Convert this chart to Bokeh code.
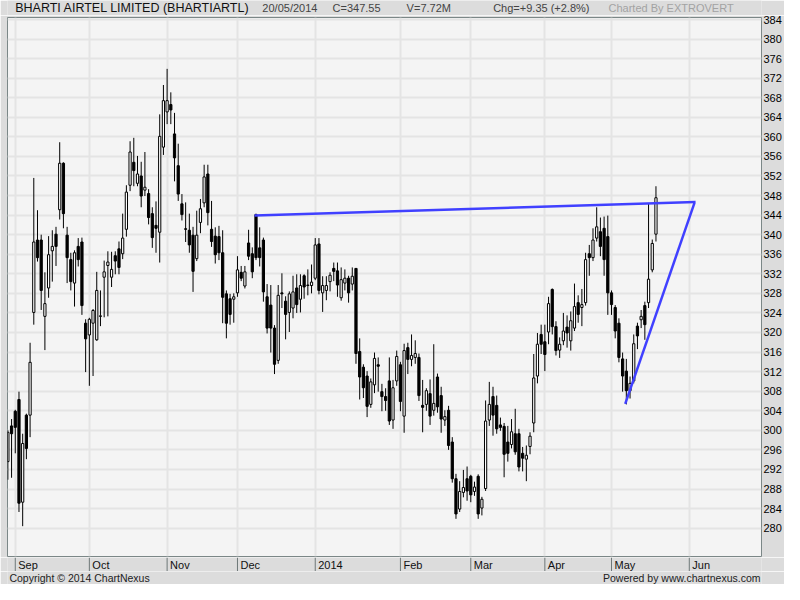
from bokeh.plotting import figure
from bokeh.layouts import column
from bokeh.models import ColumnDataSource, FixedTicker, Range1d
from bokeh.core.properties import value
from bokeh.embed import file_html
from bokeh.resources import INLINE

# Daily OHLC, one entry per trading day (29/08/2013 .. 20/05/2014)
opens = [
    293.6, 300.9, 303.9, 306.3, 285.3, 303.1, 303.1, 324.1, 338.9, 338.9,
    323.3, 329.1, 336.7, 340.1, 345.1, 354.6, 339.9, 334.9, 330.1, 337.6,
    338.5, 321.9, 319.5, 321.9, 318.5, 323.3, 331.3, 333.7, 331.3, 335.7,
    337.1, 336.1, 341.1, 350.1, 354.8, 350.5, 352.0, 349.1, 348.4, 344.3,
    341.9, 340.5, 357.9, 365.1, 366.6, 360.6, 354.1, 346.3, 341.2, 340.9,
    339.9, 335.1, 342.5, 346.5, 352.4, 341.1, 339.7, 339.6, 336.3, 327.9,
    326.9, 326.8, 328.1, 332.3, 329.5, 338.3, 336.1, 344.1, 337.3, 338.9,
    327.3, 325.6, 320.9, 314.3, 328.1, 326.4, 324.1, 325.0, 329.1, 326.8,
    331.6, 329.6, 329.6, 331.1, 338.1, 328.1, 328.6, 330.4, 333.1, 332.6,
    327.1, 330.1, 331.1, 329.9, 333.1, 316.1, 312.9, 311.1, 305.3, 309.3,
    313.4, 307.9, 306.9, 310.1, 302.1, 310.1, 313.4, 302.9, 316.9, 314.5,
    314.9, 314.9, 305.1, 305.3, 307.5, 304.1, 310.9, 307.1, 302.1, 304.1,
    297.6, 290.1, 283.9, 287.3, 290.1, 290.6, 287.5, 290.6, 284.1, 288.1,
    302.1, 306.9, 305.1, 301.1, 300.8, 297.6, 297.1, 299.3, 299.3, 295.3,
    294.1, 296.7, 301.5, 311.1, 319.6, 318.1, 320.1, 328.8, 321.2, 316.4,
    318.3, 321.1, 318.3, 320.9, 326.1, 325.1, 326.1, 336.1, 335.3, 339.3,
    340.6, 341.3, 339.6, 328.1, 325.1, 321.9, 314.6, 312.1, 308.1, 310.1,
    321.3, 322.6, 325.5, 326.1, 332.8, 340.1,
]
highs = [
    300.0, 302.3, 304.2, 307.9, 299.3, 303.4, 317.9, 351.6, 345.0, 340.0,
    332.3, 339.7, 340.9, 341.6, 358.9, 354.8, 341.6, 336.3, 336.8, 339.3,
    339.4, 322.7, 323.0, 324.8, 332.4, 328.6, 334.7, 336.6, 336.5, 336.6,
    338.6, 344.3, 350.1, 359.1, 359.8, 356.1, 354.9, 356.9, 349.3, 345.6,
    346.8, 364.6, 370.6, 373.9, 369.1, 364.9, 358.6, 348.3, 346.6, 344.3,
    341.6, 344.9, 347.3, 354.3, 354.3, 346.9, 341.5, 341.8, 340.9, 328.6,
    327.9, 328.0, 335.6, 333.6, 333.6, 341.0, 337.4, 344.3, 341.5, 339.4,
    329.9, 329.7, 321.5, 329.7, 332.1, 327.4, 328.4, 331.6, 331.9, 331.9,
    331.9, 332.9, 333.9, 339.3, 339.3, 331.5, 331.5, 332.3, 334.3, 334.3,
    333.3, 332.9, 331.6, 333.3, 333.1, 318.8, 313.5, 312.1, 310.6, 315.9,
    314.9, 309.5, 308.6, 314.9, 310.3, 316.3, 314.0, 317.7, 317.9, 319.6,
    318.4, 315.7, 310.3, 308.6, 310.4, 317.6, 311.6, 308.9, 304.1, 305.0,
    298.6, 291.1, 289.6, 291.9, 292.6, 290.9, 289.5, 291.0, 286.4, 306.1,
    309.9, 308.9, 307.1, 302.6, 301.5, 300.9, 302.3, 304.4, 300.3, 296.6,
    296.9, 299.6, 315.6, 319.9, 321.6, 321.6, 327.3, 329.0, 322.3, 319.0,
    324.0, 323.5, 324.3, 330.0, 327.6, 328.9, 336.3, 337.9, 341.3, 345.6,
    343.5, 343.7, 343.9, 328.6, 325.6, 322.9, 315.9, 314.6, 311.0, 319.6,
    322.0, 324.6, 326.3, 346.3, 339.0, 349.9,
]
lows = [
    289.9, 290.3, 295.3, 283.3, 280.4, 294.1, 298.6, 321.6, 334.5, 324.6,
    316.4, 327.1, 330.4, 333.6, 343.1, 341.3, 330.1, 328.6, 325.3, 333.5,
    323.6, 311.9, 309.1, 311.1, 318.3, 321.3, 323.1, 323.3, 329.3, 331.9,
    331.9, 335.0, 339.6, 348.9, 349.9, 349.9, 345.6, 347.9, 342.1, 337.3,
    336.3, 334.3, 356.3, 362.6, 362.6, 350.9, 346.9, 342.9, 338.5, 336.3,
    328.3, 334.6, 340.3, 345.6, 341.9, 337.5, 334.1, 334.8, 321.9, 318.8,
    321.6, 322.0, 327.3, 330.5, 329.0, 334.8, 331.1, 334.8, 333.5, 326.3,
    319.8, 315.9, 311.5, 313.6, 325.0, 318.6, 320.1, 322.9, 324.0, 324.1,
    326.9, 327.6, 328.0, 330.7, 327.8, 324.2, 326.6, 328.4, 330.5, 327.3,
    326.5, 328.6, 326.1, 328.6, 313.6, 306.3, 306.6, 302.7, 304.6, 307.6,
    307.9, 303.9, 304.0, 301.1, 300.3, 309.1, 303.9, 299.5, 311.5, 313.1,
    313.6, 306.0, 299.6, 304.0, 301.1, 303.0, 303.6, 299.5, 300.9, 296.0,
    289.3, 281.9, 283.3, 286.3, 285.6, 285.3, 286.6, 281.9, 282.6, 287.6,
    300.9, 298.9, 299.3, 299.9, 290.4, 293.6, 296.3, 295.0, 291.6, 291.6,
    289.6, 295.1, 299.6, 309.6, 315.6, 312.1, 317.6, 319.6, 315.3, 314.8,
    317.4, 316.9, 316.3, 320.3, 322.0, 321.3, 325.5, 331.6, 334.6, 338.6,
    335.6, 331.6, 323.6, 323.6, 318.8, 313.9, 307.9, 305.3, 306.5, 309.6,
    316.6, 320.9, 318.5, 325.0, 332.3, 338.6,
]
closes = [
    299.6, 299.3, 300.6, 285.1, 297.3, 296.3, 313.9, 338.5, 335.3, 328.6,
    325.9, 335.9, 337.6, 337.6, 354.6, 344.3, 335.3, 330.4, 336.3, 334.9,
    325.5, 318.7, 322.7, 324.5, 328.6, 323.4, 332.4, 334.4, 332.9, 334.6,
    333.3, 339.3, 348.7, 356.9, 353.1, 352.4, 347.9, 349.7, 343.5, 339.4,
    341.3, 360.1, 367.4, 367.4, 365.5, 355.7, 348.3, 344.1, 341.1, 337.9,
    332.5, 339.9, 345.3, 351.8, 344.5, 338.6, 335.9, 336.3, 327.2, 321.9,
    323.7, 327.3, 332.8, 331.1, 332.4, 335.6, 332.4, 335.3, 335.3, 328.3,
    320.9, 320.9, 313.5, 327.6, 327.9, 323.7, 327.9, 328.3, 325.7, 329.6,
    329.3, 329.7, 330.3, 337.9, 328.6, 329.6, 329.6, 331.7, 332.5, 329.7,
    330.8, 331.1, 328.1, 331.5, 315.7, 310.9, 308.7, 304.9, 309.9, 314.7,
    313.1, 306.9, 306.1, 301.9, 308.7, 315.1, 305.9, 316.3, 314.5, 315.3,
    315.7, 307.1, 304.7, 308.1, 302.9, 305.5, 304.8, 302.3, 302.8, 296.9,
    290.1, 282.9, 287.5, 288.3, 287.6, 286.8, 288.4, 282.9, 285.9, 301.9,
    305.3, 303.1, 300.3, 300.6, 295.1, 295.3, 299.7, 295.6, 292.5, 294.3,
    294.9, 298.8, 310.7, 317.6, 317.6, 315.5, 325.9, 321.2, 316.3, 317.6,
    320.3, 319.9, 322.4, 325.3, 323.7, 325.7, 334.9, 335.3, 338.9, 341.6,
    337.6, 334.9, 328.1, 325.7, 320.3, 314.9, 311.1, 308.1, 309.6, 317.7,
    319.3, 323.3, 321.6, 330.9, 338.2, 347.55,
]

# Month ticks (index of first trading day of each month)
month_idx = [2, 22, 43, 62, 83, 106, 125, 145, 163, 184]
month_names = ["Sep", "Oct", "Nov", "Dec", "2014", "Feb", "Mar", "Apr", "May", "Jun"]
price_ticks = list(range(280, 385, 4))

# Hand-drawn trend lines (index, price)
resistance_x = [66.6, 185.7]
resistance_y = [343.9, 346.7]
support_x = [166.7, 185.4]
support_y = [305.4, 346.5]

idx = list(range(len(closes)))
tops = [max(o, c) for o, c in zip(opens, closes)]
bots = [min(o, c) for o, c in zip(opens, closes)]
fills = ["white" if c >= o else "black" for o, c in zip(opens, closes)]
src = ColumnDataSource(dict(x=idx, high=highs, low=lows, top=tops, bottom=bots, fill=fills))

W = 784
LEFT, RIGHT = 7, 21
BG = "#dcdcdc"
FONT = "Liberation Sans"
HEAD_H, MAIN_H, MONTH_H, FOOT_H = 15, 542, 14, 13


def strip(height, x_range=None, left=0, right=0):
    f = figure(width=W, height=height, output_backend="svg", toolbar_location=None,
               title=None,
               x_range=x_range if x_range is not None else Range1d(0, W),
               y_range=Range1d(0, height),
               x_axis_location=None, y_axis_location=None,
               min_border_left=left, min_border_right=right, min_border_top=0, min_border_bottom=0,
               background_fill_color=BG, border_fill_color=BG, outline_line_color=None)
    f.xgrid.visible = False
    f.ygrid.visible = False
    return f


def txt(f, x, y, s, size="11px", color="#333333", align="left"):
    f.text(x=x, y=y, text=s, text_font=value(FONT), text_font_size=value(size),
           text_color=color, text_align=align, text_baseline="middle")


# ---- main chart ----
p = figure(width=W, height=MAIN_H, output_backend="svg", toolbar_location=None,
           title=None,
           x_range=Range1d(-0.1, 203.5), y_range=Range1d(274.2, 384.4),
           x_axis_location=None, y_axis_location="right",
           min_border_left=LEFT, min_border_right=RIGHT, min_border_top=2, min_border_bottom=1,
           background_fill_color="#f4f4f4", border_fill_color=BG,
           outline_line_color="#7b8787", outline_line_width=1)

p.yaxis.ticker = FixedTicker(ticks=price_ticks)
p.yaxis.major_tick_out = 0
p.yaxis.major_tick_in = 0
p.yaxis.minor_tick_out = 0
p.yaxis.minor_tick_in = 0
p.yaxis.major_label_standoff = 2
p.yaxis.major_label_text_font = FONT
p.yaxis.major_label_text_font_size = "11px"
p.yaxis.major_label_text_color = "#000000"
p.yaxis.axis_line_color = None

p.xgrid.ticker = FixedTicker(ticks=month_idx)
p.xgrid.grid_line_color = "#e4e4e4"
p.xgrid.grid_line_width = 2
p.ygrid.grid_line_color = "#e4e4e4"
p.ygrid.grid_line_width = 2

p.segment(x0="x", y0="low", x1="x", y1="high", source=src, line_color="black", line_width=1)
p.vbar(x="x", width=0.6, top="top", bottom="bottom", source=src,
       fill_color="fill", line_color="black", line_width=1)

p.line(resistance_x, resistance_y, line_color="#4040ff", line_width=2.5)
p.line(support_x, support_y, line_color="#4040ff", line_width=2.5)

# ---- header ----
hy = HEAD_H / 2
head = strip(HEAD_H)
txt(head, [8], [hy], ["BHARTI AIRTEL LIMITED (BHARTIARTL)"], size="12.5px", color="#111111")
txt(head, [265], [hy], ["20/05/2014"], color="#444444")
txt(head, [338], [hy], ["C=347.55"], color="#444444")
txt(head, [415], [hy], ["V=7.72M"], color="#444444")
txt(head, [505], [hy], ["Chg=+9.35 (+2.8%)"], color="#444444")
txt(head, [755], [hy], ["Charted By EXTROVERT"], color="#a3a3a3", align="right")

# ---- month axis strip (shares the chart's x scale) ----
months = strip(MONTH_H, x_range=p.x_range, left=LEFT, right=RIGHT)
msrc = ColumnDataSource(dict(x=month_idx, name=month_names,
                             y0=[0] * len(month_idx), y1=[MONTH_H] * len(month_idx),
                             yt=[MONTH_H / 2] * len(month_idx)))
months.segment(x0="x", y0="y0", x1="x", y1="y1", source=msrc, line_color="#6e7878", line_width=1)
months.text(x="x", y="yt", text="name", source=msrc, x_offset=3,
            text_font=value(FONT), text_font_size=value("11px"), text_color="#111111",
            text_align="left", text_baseline="middle")

# ---- footer ----
fy = FOOT_H / 2
foot = strip(FOOT_H)
txt(foot, [2], [fy], ["Copyright \u00a9 2014 ChartNexus"], size="10.5px", color="#222222")
txt(foot, [783], [fy], ["Powered by www.chartnexus.com"], size="10.5px", color="#222222", align="right")

layout = column(head, p, months, foot, spacing=0)
open("out.html", "w").write(file_html(layout, INLINE))
